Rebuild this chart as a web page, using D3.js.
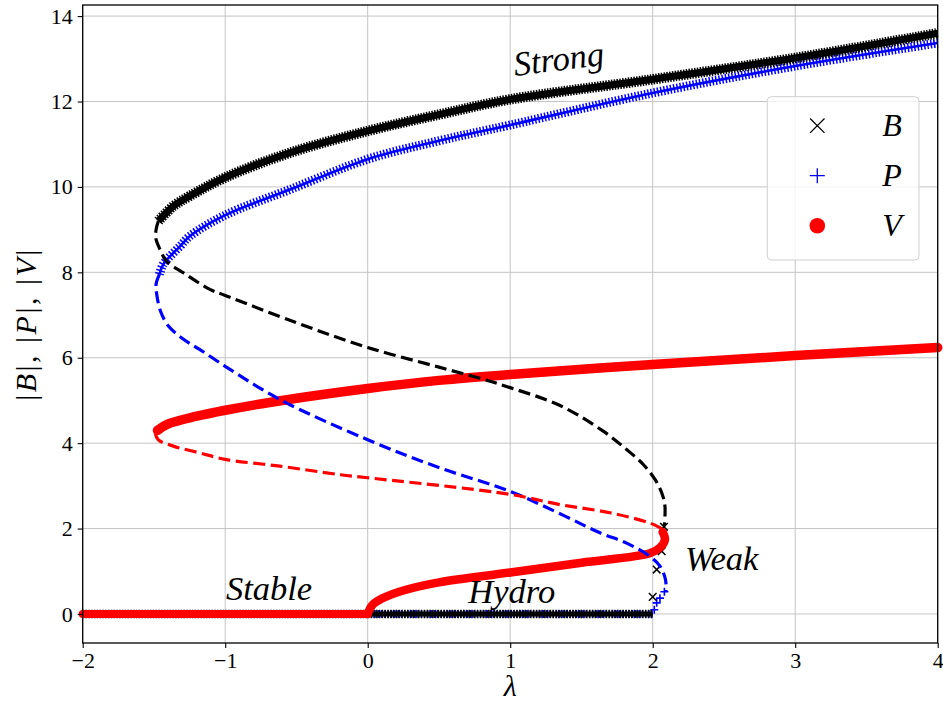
<!DOCTYPE html>
<html>
<head>
<meta charset="utf-8">
<script src="https://cdn.jsdelivr.net/npm/d3@7"></script>
<style>
  body { margin: 0; background: #fff; }
  text { font-family: "Liberation Serif", "DejaVu Serif", serif; }
</style>
</head>
<body>
<script>
const width = 943,
  height = 702;

const margin = { top: 5, right: 5.3, bottom: 59, left: 82.7 };
const innerWidth = width - margin.left - margin.right;
const innerHeight = height - margin.top - margin.bottom;

// ticks
const xTicks = [-2, -1, 0, 1, 2, 3, 4];
const yTicks = [0, 2, 4, 6, 8, 10, 12, 14];

// |B| branches  [lambda, value]
const bStable = [[-2, 0], [0, 0]];
const bHydro = [[0, 0], [2, 0]];
const bStrong = [[-1.469, 9.2], [-1.364, 9.55], [-1.247, 9.79], [-1.0, 10.22], [-0.545, 10.8],
  [0, 11.31], [0.507, 11.7], [1, 12.05], [2, 12.52], [3, 13.02], [4, 13.6]];
const bUnstable = [[-1.469, 9.2], [-1.485, 9.0], [-1.487, 8.8], [-1.458, 8.54], [-1.411, 8.26],
  [-1.294, 7.99], [-1.107, 7.6], [-1.0, 7.46], [-0.5, 6.82], [0, 6.24], [0.5, 5.78],
  [0.775, 5.53], [1, 5.3], [1.35, 4.88], [1.653, 4.28], [1.817, 3.85], [1.934, 3.5],
  [2.016, 3.15], [2.063, 2.84], [2.086, 2.52], [2.081, 2.05]];
const bWeak = [[2.0, 0.4], [2.028, 1.04], [2.063, 1.47], [2.079, 2.04]];

// |P| branches
const pStable = [[-2, 0], [0, 0]];
const pHydro = [[0, 0], [2, 0]];
const pStrong = [[-1.462, 7.95], [-1.434, 8.19], [-1.317, 8.61], [-1.247, 8.85], [-1, 9.34],
  [-0.545, 9.94], [0, 10.65], [0.5, 11.08], [1, 11.45], [2, 12.2], [3, 12.83], [4, 13.37]];
const pUnstable = [[-1.462, 7.95], [-1.485, 7.72], [-1.482, 7.52], [-1.455, 7.1], [-1.4, 6.75],
  [-1.3, 6.45], [-1.177, 6.19], [-1.0, 5.8], [-0.615, 5.02], [0, 4.08], [0.507, 3.42], [1, 2.87],
  [1.385, 2.29], [1.63, 1.9], [1.817, 1.66], [1.98, 1.35], [2.051, 1.12], [2.09, 0.8], [2.093, 0.53]];
const pWeak = [[2.011, 0.1], [2.028, 0.26], [2.051, 0.37], [2.082, 0.52]];

// |V| branches
const vStable = [[-2, 0], [0, 0]];
const vWeak = [[0, 0], [0.03, 0.2], [0.1, 0.36], [0.25, 0.55], [0.5, 0.74], [1, 0.97],
  [1.5, 1.2], [1.98, 1.42], [2.05, 1.55], [2.086, 1.74], [2.07, 1.92]];
const vStrong = [[-1.475, 4.3], [-1.4, 4.45], [-1.2, 4.63], [-1, 4.77], [-0.6, 5.0], [0, 5.28],
  [0.5, 5.47], [1, 5.61], [2, 5.84], [3, 6.05], [4, 6.24]];
const vUnstable = [[-1.49, 4.22], [-1.47, 4.08], [-1.364, 3.93], [-1.177, 3.77], [-1.0, 3.62],
  [-0.615, 3.46], [-0.19, 3.26], [0, 3.19], [1, 2.8], [1.35, 2.56], [1.7, 2.37], [1.98, 2.13],
  [2.05, 2.02], [2.075, 1.97]];

const regionLabels = [
  { text: "Strong", x: 1.034, y: 12.6, rot: -7 },
  { text: "Stable", x: -0.995, y: 0.32, rot: 0 },
  { text: "Hydro", x: 0.706, y: 0.26, rot: 0 },
  { text: "Weak", x: 2.226, y: 1.02, rot: 0 }
];

const legendItems = ["B", "P", "V"];

const xScale = d3.scaleLinear().domain([-2, 4]).range([0, innerWidth]);
const yScale = d3.scaleLinear().domain([-0.68, 14.26]).range([innerHeight, 0]);

const svg = d3.select("body").append("svg")
  .attr("width", width)
  .attr("height", height);

const mainG = svg.append("g")
  .attr("transform", `translate(${margin.left},${margin.top})`);

// grid
mainG.append("g").selectAll("line").data(xTicks).enter().append("line")
  .attr("x1", d => xScale(d)).attr("x2", d => xScale(d))
  .attr("y1", 0).attr("y2", innerHeight)
  .attr("stroke", "#c4c4c4").attr("stroke-width", 1);
mainG.append("g").selectAll("line").data(yTicks).enter().append("line")
  .attr("y1", d => yScale(d)).attr("y2", d => yScale(d))
  .attr("x1", 0).attr("x2", innerWidth)
  .attr("stroke", "#c4c4c4").attr("stroke-width", 1);

const line = d3.line()
  .x(d => xScale(d[0]))
  .y(d => yScale(d[1]))
  .curve(d3.curveCatmullRom.alpha(0.5));

const plot = mainG.append("g");

function drawPath(data, stroke, w, dash, cap) {
  plot.append("path").datum(data)
    .attr("d", line)
    .attr("fill", "none")
    .attr("stroke", stroke)
    .attr("stroke-width", w)
    .attr("stroke-dasharray", dash || null)
    .attr("stroke-linecap", cap || "butt")
    .attr("stroke-linejoin", "round");
}

// band of "+" markers
function plusBand(data, w) {
  drawPath(data, "blue", w, "1.5 1.8");
  drawPath(data, "blue", 2.6);
}
// band of "x" markers
function crossBand(data, w) {
  drawPath(data, "black", w + 3.5, "1.5 1.3");
  drawPath(data, "black", w);
}

const crossPath = s => `M${-s},${-s}L${s},${s}M${-s},${s}L${s},${-s}`;
const plusPath = s => `M${-s},0H${s}M0,${-s}V${s}`;

// P stable parts
plusBand(pStable, 8);
plusBand(pHydro, 8);
plusBand(pStrong, 9);
plot.append("g").selectAll("path").data(pWeak).enter().append("path")
  .attr("d", plusPath(4))
  .attr("transform", d => `translate(${xScale(d[0])},${yScale(d[1])})`)
  .attr("stroke", "blue").attr("stroke-width", 1.6).attr("fill", "none");

// B stable parts
crossBand(bStable, 5);
crossBand(bHydro, 5);
crossBand(bStrong, 7);
plot.append("g").selectAll("path").data(bWeak).enter().append("path")
  .attr("d", crossPath(3.8))
  .attr("transform", d => `translate(${xScale(d[0])},${yScale(d[1])})`)
  .attr("stroke", "black").attr("stroke-width", 1.5).attr("fill", "none");

// V stable parts
drawPath(vStable, "red", 8, null, "round");
drawPath(vWeak, "red", 8.5, null, "round");
drawPath(vStrong, "red", 9.5, null, "round");

// unstable branches, dashed
drawPath(pUnstable, "blue", 3.2, "12 5.5");
drawPath(vUnstable, "red", 3.2, "12 5.5");
drawPath(bUnstable, "black", 3.2, "12 5.5");

// axes
const fmt = d => (d < 0 ? "\u2212" + Math.abs(d) : String(d));
const xAxis = d3.axisBottom(xScale).tickValues(xTicks).tickFormat(fmt).tickSize(5).tickPadding(4);
const yAxis = d3.axisLeft(yScale).tickValues(yTicks).tickFormat(fmt).tickSize(5).tickPadding(5);

const gx = mainG.append("g").attr("transform", `translate(0,${innerHeight})`).call(xAxis);
const gy = mainG.append("g").call(yAxis);
[gx, gy].forEach(g => {
  g.attr("font-family", '"Liberation Serif", serif').attr("font-size", 22);
  g.select(".domain").remove();
  g.selectAll(".tick line").attr("stroke", "#000").attr("stroke-width", 1.1);
  g.selectAll(".tick text").attr("fill", "#000");
});

mainG.append("rect")
  .attr("width", innerWidth).attr("height", innerHeight)
  .attr("fill", "none").attr("stroke", "#000").attr("stroke-width", 1.3);

// region labels
mainG.append("g").selectAll("text").data(regionLabels).enter().append("text")
  .attr("transform", d => `translate(${xScale(d.x)},${yScale(d.y)}) rotate(${d.rot})`)
  .attr("font-size", 34.5)
  .attr("font-style", "italic")
  .text(d => d.text);

// axis labels
svg.append("text")
  .attr("x", margin.left + innerWidth / 2)
  .attr("y", 696)
  .attr("text-anchor", "middle")
  .attr("font-size", 30)
  .attr("font-style", "italic")
  .text("λ");

const yl = svg.append("text")
  .attr("transform", `translate(36,${margin.top + innerHeight / 2}) rotate(-90)`)
  .attr("text-anchor", "middle")
  .attr("font-size", 30)
  .attr("letter-spacing", 2.5);
legendItems.forEach((name, i) => {
  yl.append("tspan").text("|");
  yl.append("tspan").attr("font-style", "italic").text(name);
  yl.append("tspan").text(i < legendItems.length - 1 ? "|, " : "|");
});

// legend
const legend = svg.append("g").attr("transform", "translate(767.3,96.7)");
legend.append("rect")
  .attr("width", 151.7).attr("height", 163.3).attr("rx", 4)
  .attr("fill", "#fff").attr("fill-opacity", 0.8)
  .attr("stroke", "#d0d0d0").attr("stroke-width", 1);

const li = legend.selectAll("g.item").data(legendItems).enter().append("g")
  .attr("class", "item")
  .attr("transform", (d, i) => `translate(50,${29 + i * 50})`);

li.each(function(d) {
  const g = d3.select(this);
  if (d === "B") {
    g.append("path").attr("d", crossPath(7.2)).attr("stroke", "black")
      .attr("stroke-width", 1.3).attr("fill", "none");
  } else if (d === "P") {
    g.append("path").attr("d", plusPath(7.5)).attr("stroke", "blue")
      .attr("stroke-width", 1.3).attr("fill", "none");
  } else {
    g.append("circle").attr("r", 7.8).attr("fill", "red");
  }
});

li.append("text")
  .attr("x", 65)
  .attr("y", 10)
  .attr("font-size", 32)
  .attr("font-style", "italic")
  .text(d => d);
</script>
</body>
</html>
